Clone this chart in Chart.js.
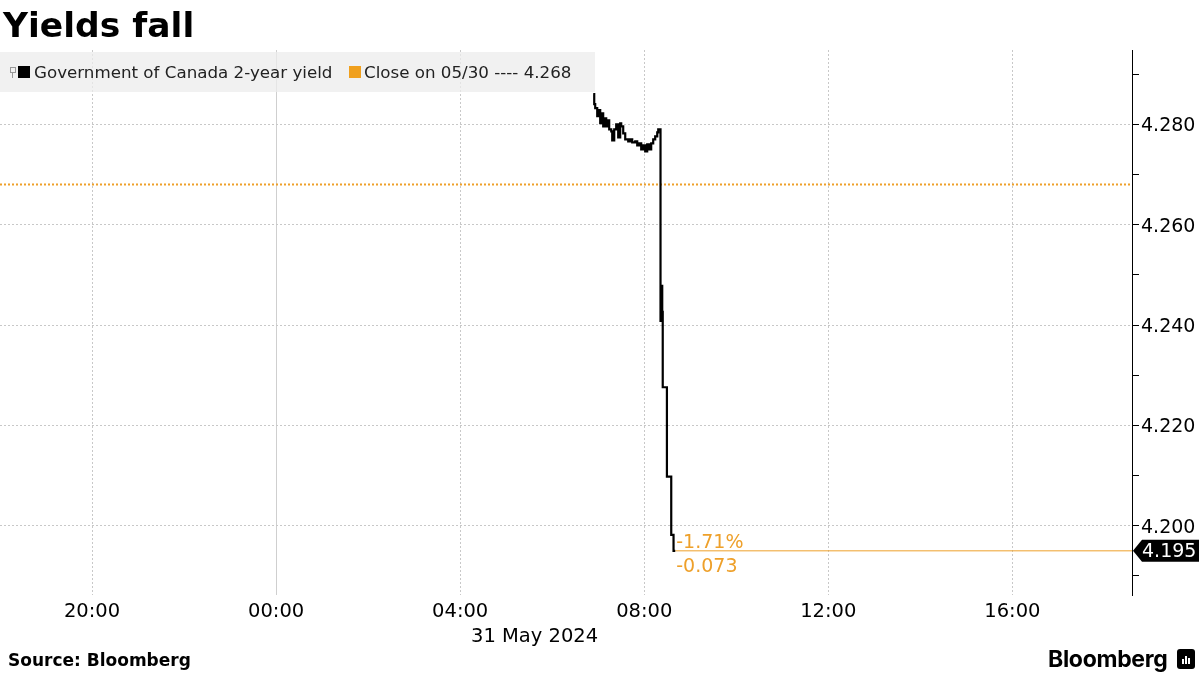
<!DOCTYPE html>
<html>
<head>
<meta charset="utf-8">
<script src="https://cdn.jsdelivr.net/npm/chart.js@4.4.1/dist/chart.umd.min.js"></script>
<style>
  html, body { margin: 0; padding: 0; background: #fff; }
  body { width: 1200px; height: 675px; position: relative; overflow: hidden; font-family: "DejaVu Sans", sans-serif; }
  #chartCanvas { position: absolute; left: 0; top: 0; }
  h1 { position: absolute; left: 3px; top: 8px; margin: 0; font-size: 34.5px; line-height: 34px; font-weight: bold; color: #000; }
  .legend { position: absolute; left: 0; top: 52px; width: 595px; height: 40px; background: rgba(236,236,236,0.75); font-size: 16.7px; color: #222; }
  .legend span { position: absolute; top: 0; line-height: 40px; white-space: nowrap; }
  .legend .sw { position: absolute; top: 14px; width: 12px; height: 12px; }
  .legend .pin { position: absolute; left: 10px; top: 15px; width: 4px; height: 4px; border: 1px solid #999; }
  .legend .pin:after { content: ""; position: absolute; left: 1px; top: 5px; width: 1px; height: 5px; background: #999; }
  .source { position: absolute; left: 8px; top: 652px; font-size: 17px; line-height: 17px; font-weight: bold; color: #000; }
  .brand { position: absolute; left: 1048px; top: 646px; font-family: Inter, sans-serif; font-size: 23px; line-height: 26px; font-weight: 700; color: #000; letter-spacing: -0.3px; }
  .logo { position: absolute; left: 1177px; top: 649px; width: 18px; height: 20px; background: #000; border-radius: 3px; }
  .logo i { position: absolute; bottom: 5px; width: 2px; background: #fff; }
</style>
</head>
<body>
<canvas id="chartCanvas" width="1200" height="675"></canvas>
<h1>Yields fall</h1>
<div class="legend">
  <div class="pin"></div>
  <div class="sw" style="left:18px;background:#000"></div>
  <span style="left:34px">Government of Canada 2-year yield</span>
  <div class="sw" style="left:349px;background:#f0a01e"></div>
  <span style="left:364px">Close on 05/30 ---- 4.268</span>
</div>
<div class="source">Source: Bloomberg</div>
<div class="brand">Bloomberg</div>
<div class="logo"><i style="left:5px;height:5px"></i><i style="left:8px;height:8px"></i><i style="left:11px;height:6px"></i></div>
<script>
// 31 May 2024, times of day (ET)
const times = [
    '06:53:30', '06:54:48', '06:56:05', '06:58:43', '07:00:00', '07:02:36', '07:03:55',
    '07:06:30', '07:07:50', '07:10:26', '07:11:44', '07:14:20', '07:17:00', '07:18:16',
    '07:20:52', '07:23:28', '07:26:04', '07:28:40', '07:30:00', '07:32:36', '07:35:13',
    '07:39:08', '07:41:44', '07:44:20', '07:48:15', '07:50:52', '07:53:28', '07:56:04',
    '07:58:40', '08:01:17', '08:03:53', '08:06:29', '08:09:05', '08:11:42', '08:14:18',
    '08:16:58', '08:18:16', '08:21:14', '08:22:48', '08:23:28', '08:24:08', '08:29:35',
    '08:35:13', '08:38:13', '08:40:26'
];
const yields = [
    4.2860, 4.2840, 4.2832, 4.2816, 4.2828, 4.2802, 4.2822,
    4.2796, 4.2812, 4.2796, 4.2808, 4.2790, 4.2786, 4.2768,
    4.2790, 4.2800, 4.2774, 4.2802, 4.2796, 4.2782, 4.2770,
    4.2766, 4.2770, 4.2764, 4.2766, 4.2758, 4.2762, 4.2750,
    4.2758, 4.2746, 4.2760, 4.2750, 4.2762, 4.2770, 4.2776,
    4.2784, 4.2790, 4.2408, 4.2478, 4.2426, 4.2276, 4.2098,
    4.1982, 4.1950, 4.1950
];
const closeValue = 4.268;

// x axis in minutes from midnight 31 May (negative = 30 May)
const xMin = -360;   // 18:00 on 30 May
const xMax = 1116;   // 18:36 on 31 May
const xTickValues = [-240, 0, 240, 480, 720, 960];
const dateLabel = '31 May 2024';
const dateLabelAt = 337;

const yMin = 4.1862;
const yMax = 4.2948;
const yTickValues = [4.19, 4.20, 4.21, 4.22, 4.23, 4.24, 4.25, 4.26, 4.27, 4.28, 4.29];

const orange = '#eea02a';

function toMin(s) {
    const [h, m, sec] = s.split(':').map(Number);
    return h * 60 + m + (sec || 0) / 60;
}

function fmtTime(v) {
    const m = ((v % 1440) + 1440) % 1440;
    const h = Math.floor(m / 60);
    const mm = Math.round(m % 60);
    return String(h).padStart(2, '0') + ':' + String(mm).padStart(2, '0');
}

function isMajor(v) {
    return Math.round(v * 1000) % 20 === 0;
}

const points = times.map((t, i) => ({ x: toMin(t), y: yields[i] }));
const last = points[points.length - 1];

// labels, change and last-value tag
const overlay = {
    id: 'overlay',
    afterDraw(chart) {
        const ctx = chart.ctx;
        const xs = chart.scales.x;
        const ys = chart.scales.y;
        ctx.save();

        ctx.fillStyle = '#000';
        ctx.font = '19.5px "DejaVu Sans"';
        ctx.textAlign = 'center';
        ctx.textBaseline = 'alphabetic';
        ctx.fillText(dateLabel, xs.getPixelForValue(dateLabelAt), 642);

        const lx = xs.getPixelForValue(last.x);
        const ly = ys.getPixelForValue(last.y);
        const diff = last.y - closeValue;
        const pct = diff / closeValue * 100;
        ctx.fillStyle = orange;
        ctx.font = '19px "DejaVu Sans"';
        ctx.textAlign = 'left';
        ctx.fillText(pct.toFixed(2) + '%', lx + 1, ly - 3);
        ctx.fillText(diff.toFixed(3), lx + 1, ly + 21);

        // last value tag on the axis
        const ax = chart.chartArea.right;
        ctx.fillStyle = '#000';
        ctx.beginPath();
        ctx.moveTo(ax + 1, ly);
        ctx.lineTo(ax + 10, ly - 11);
        ctx.lineTo(1199, ly - 11);
        ctx.lineTo(1199, ly + 11);
        ctx.lineTo(ax + 10, ly + 11);
        ctx.closePath();
        ctx.fill();
        ctx.fillStyle = '#fff';
        ctx.font = '19px "DejaVu Sans"';
        ctx.textBaseline = 'middle';
        ctx.fillText(last.y.toFixed(3), ax + 10, ly + 1);
        ctx.restore();
    }
};

new Chart(document.getElementById('chartCanvas'), {
    type: 'line',
    data: {
        datasets: [
            {
                label: 'Government of Canada 2-year yield',
                data: points,
                stepped: true,
                borderColor: '#000',
                borderWidth: 2.2,
                pointRadius: 0,
                order: 0
            },
            {
                label: 'Close on 05/30',
                data: [{ x: xMin, y: closeValue }, { x: xMax, y: closeValue }],
                borderColor: orange,
                borderWidth: 2,
                borderDash: [2, 2],
                pointRadius: 0,
                order: 1
            },
            {
                label: 'Last',
                data: [{ x: last.x, y: last.y }, { x: xMax, y: last.y }],
                borderColor: orange,
                borderWidth: 1,
                pointRadius: 0,
                order: 2
            }
        ]
    },
    options: {
        responsive: false,
        animation: false,
        layout: { padding: { top: 50, left: 0, right: 0, bottom: 0 } },
        plugins: {
            legend: { display: false },
            tooltip: { enabled: false }
        },
        scales: {
            x: {
                type: 'linear',
                min: xMin,
                max: xMax,
                afterBuildTicks: s => { s.ticks = xTickValues.map(v => ({ value: v })); },
                afterFit: s => { s.height = 80; },
                ticks: {
                    callback: v => fmtTime(v),
                    font: { family: 'DejaVu Sans', size: 19.5 },
                    color: '#000',
                    padding: 5,
                    maxRotation: 0,
                    autoSkip: false
                },
                grid: {
                    color: c => (c.tick && c.tick.value === 0) ? '#cfcfcf' : '#c8c8c8',
                    drawTicks: false,
                    lineWidth: 1
                },
                border: {
                    display: false,
                    dash: c => (c.tick && c.tick.value === 0) ? [] : [2, 2]
                }
            },
            y: {
                position: 'right',
                min: yMin,
                max: yMax,
                afterBuildTicks: s => { s.ticks = yTickValues.map(v => ({ value: v })); },
                afterFit: s => { s.width = 68; },
                ticks: {
                    callback: v => isMajor(v) ? v.toFixed(3) : '',
                    font: { family: 'DejaVu Sans', size: 19 },
                    color: '#000',
                    padding: 2,
                    labelOffset: 2
                },
                grid: {
                    color: c => (c.tick && isMajor(c.tick.value)) ? '#c8c8c8' : 'rgba(0,0,0,0)',
                    tickColor: '#000',
                    tickLength: 7,
                    lineWidth: 1
                },
                border: {
                    display: true,
                    color: '#000',
                    width: 1,
                    dash: c => c.tick ? [2, 2] : []
                }
            }
        }
    },
    plugins: [overlay]
});
</script>
</body>
</html>
